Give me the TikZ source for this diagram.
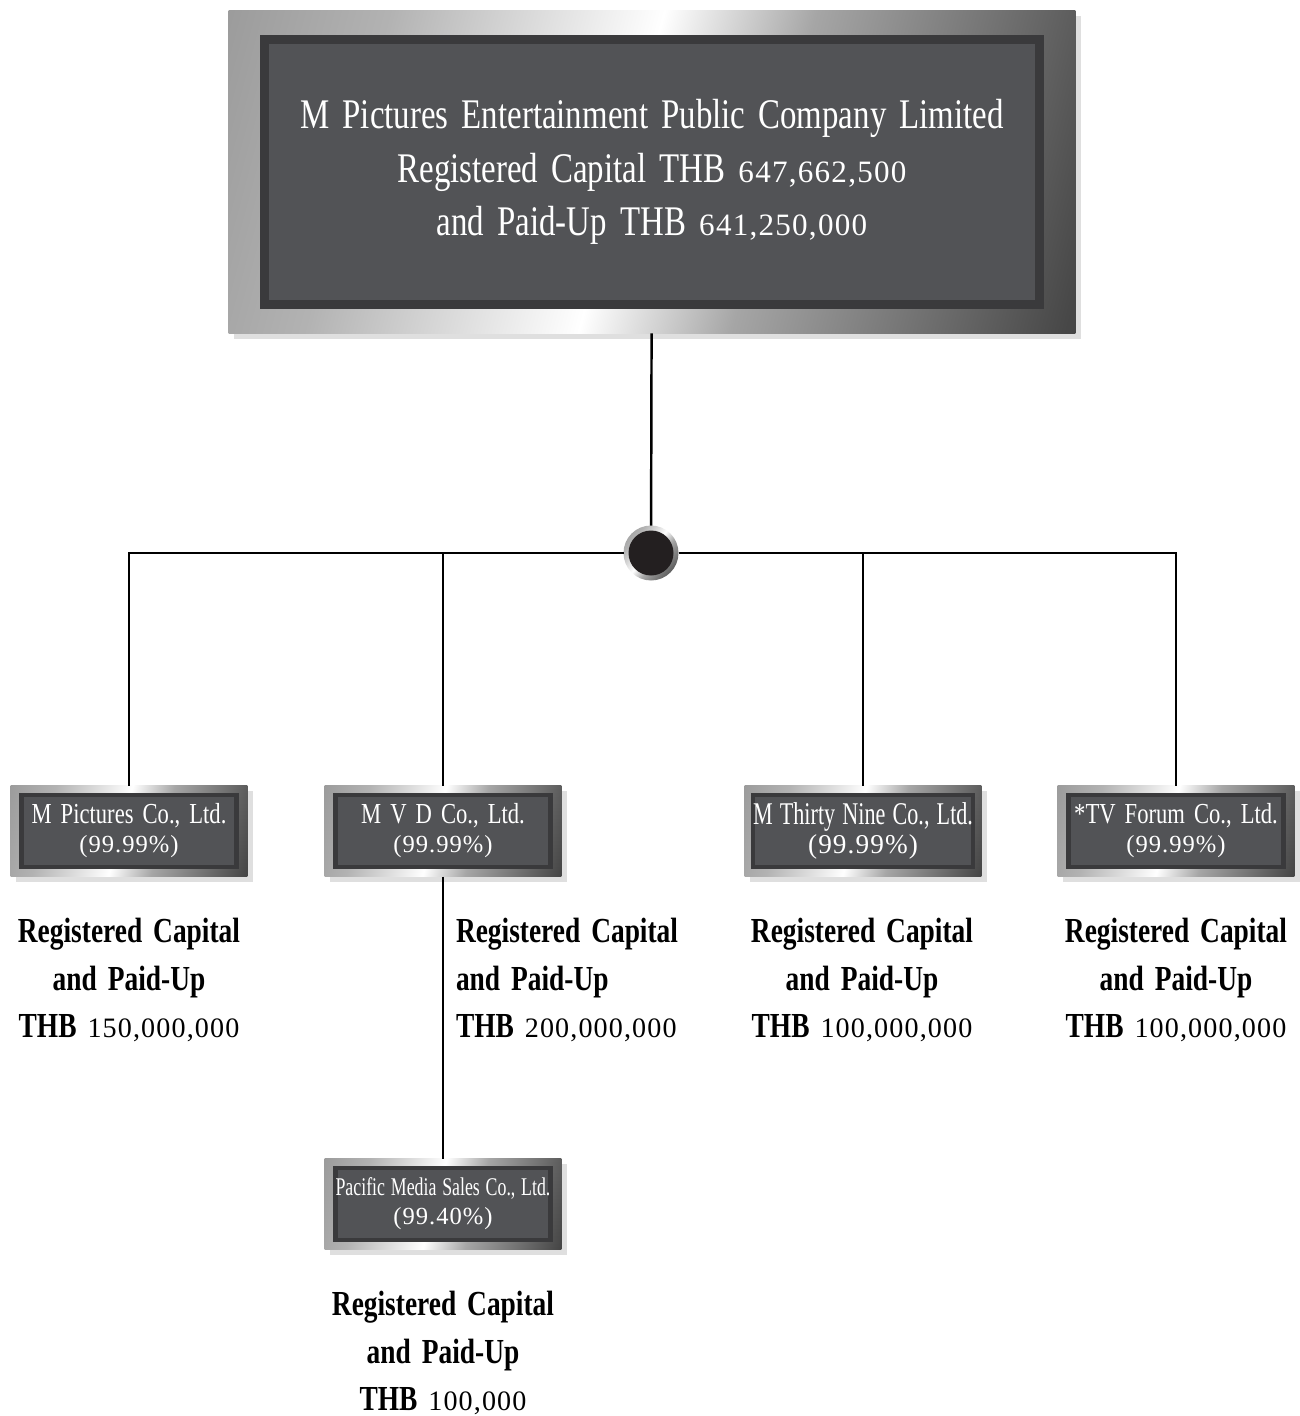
\documentclass[tikz,border=0pt]{standalone}
\usepackage{fontspec}
\setmainfont{Liberation Serif}[FakeStretch=0.78, WordSpace=1.6]
\newfontfamily\numfont{Liberation Serif}[LetterSpace=4]
\newfontfamily\narrowfont{Liberation Serif}[FakeStretch=0.7, WordSpace=1.3]
\usetikzlibrary{positioning, shadows}

\definecolor{panelgray}{RGB}{82,83,86}
\definecolor{rimgray}{RGB}{58,58,60}
\definecolor{hubblack}{RGB}{35,31,32}

\pgfdeclarehorizontalshading{metal}{100bp}{color(0bp)=(black!55); color(30bp)=(black!30);
  color(48bp)=(white); color(58bp)=(black!35); color(80bp)=(black!72); color(100bp)=(black!88)}

\begin{document}
\begin{tikzpicture}[
      x=0.02cm, y=-0.02cm,
      every node/.style={inner sep=0pt, outer sep=0pt},
      frame/.style={shading=metal, shading angle=-15,
                    drop shadow={shadow xshift=3pt, shadow yshift=-3pt, fill=black!25}},
      bigframe/.style={frame, minimum width=16.94cm, minimum height=6.46cm},
      smallframe/.style={frame, minimum width=4.74cm, minimum height=1.82cm},
      panel/.style={fill=panelgray, draw=rimgray, text=white, align=center},
      bigpanel/.style={panel, line width=5pt, minimum width=15.5cm, minimum height=5.3cm,
                       font=\fontsize{24}{30.6}\selectfont},
      smallpanel/.style={panel, line width=2.5pt, minimum width=4.3cm, minimum height=1.45cm,
                         font=\fontsize{16.5}{16.5}\selectfont},
      capital/.style={align=center, font=\bfseries\fontsize{20}{27.2}\selectfont},
      link/.style={line width=1.4pt, black},
    ]
    \useasboundingbox (0,0) rectangle (1299,1416);

    %% Parent company
    \node[bigframe] (topframe) at (652,172) {};
    \node[bigpanel] (top) at (topframe) {M Pictures Entertainment Public Company Limited\\
      Registered Capital THB {\numfont\fontsize{17.7}{20}\selectfont 647,662,500}\\
      and Paid-Up THB {\numfont\fontsize{17.7}{20}\selectfont 641,250,000}};

    %% Subsidiaries
    \node[smallframe] (c1) at (129,831) {};
    \node[smallpanel] (c1txt) at (c1) {M Pictures Co., Ltd.\\{\numfont\fontsize{14}{14}\selectfont (99.99\%)}};

    \node[smallframe] (c2) at (443,831) {};
    \node[smallpanel] (c2txt) at (c2) {M V D Co., Ltd.\\{\numfont\fontsize{14}{14}\selectfont (99.99\%)}};

    \node[smallframe] (c3) at (863,831) {};
    \node[smallpanel] (c3txt) at (c3) {{\narrowfont\fontsize{18}{16.5}\selectfont M Thirty Nine Co., Ltd.}\\{\numfont\fontsize{15.5}{14}\selectfont (99.99\%)}};

    \node[smallframe] (c4) at (1176,831) {};
    \node[smallpanel] (c4txt) at (c4) {*TV Forum Co., Ltd.\\{\numfont\fontsize{14}{14}\selectfont (99.99\%)}};

    \node[smallframe] (c5) at (443,1204) {};
    \node[smallpanel] (c5txt) at (c5) {{\narrowfont\fontsize{14.5}{16.5}\selectfont Pacific Media Sales Co., Ltd.}\\{\numfont\fontsize{14}{14}\selectfont (99.40\%)}};

    %% Hub
    \node[circle, minimum size=1.1cm, shading=metal, shading angle=-40] (hub) at (651,553) {};
    \node[circle, minimum size=0.9cm, fill=hubblack] (hubcore) at (hub) {};

    %% Connectors
    \draw[link] (topframe) -- (hub);
    \draw[link] (hub) -| (c1);
    \draw[link] (hub) -| (c2);
    \draw[link] (hub) -| (c3);
    \draw[link] (hub) -| (c4);
    \draw[link] (c2) -- (c5);

    %% Capital notes
    \node[capital, anchor=north] (c1cap) at (129,918) {Registered Capital\\and Paid-Up\\THB {\mdseries\numfont\fontsize{16}{20}\selectfont 150,000,000}};
    \node[capital, anchor=north west, align=left] (c2cap) at (456,918) {Registered Capital\\and Paid-Up\\THB {\mdseries\numfont\fontsize{16}{20}\selectfont 200,000,000}};
    \node[capital, anchor=north] (c3cap) at (862,918) {Registered Capital\\and Paid-Up\\THB {\mdseries\numfont\fontsize{16}{20}\selectfont 100,000,000}};
    \node[capital, anchor=north] (c4cap) at (1176,918) {Registered Capital\\and Paid-Up\\THB {\mdseries\numfont\fontsize{16}{20}\selectfont 100,000,000}};
    \node[capital, anchor=north] (c5cap) at (443,1291) {Registered Capital\\and Paid-Up\\THB {\mdseries\numfont\fontsize{16}{20}\selectfont 100,000}};
  \end{tikzpicture}
\end{document}
